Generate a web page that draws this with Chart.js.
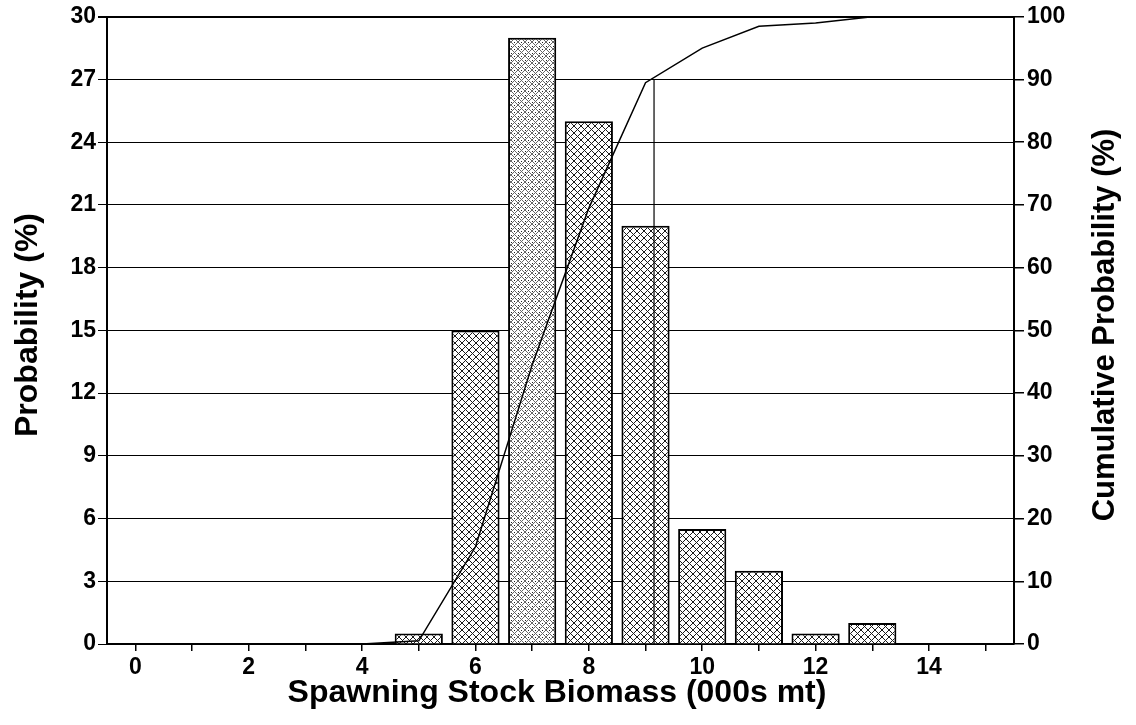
<!DOCTYPE html>
<html>
<head>
<meta charset="utf-8">
<script src="https://cdn.jsdelivr.net/npm/chart.js@4"></script>
<style>
  body { margin: 0; background: #fff; }
</style>
</head>
<body>
<canvas id="ssbChart" width="1136" height="725"></canvas>
<script>
// 階級（000s mt）と確率
const biomass = [0, 1, 2, 3, 4, 5, 6, 7, 8, 9, 10, 11, 12, 13, 14, 15];
const probability = [0, 0, 0, 0, 0, 0.5, 15, 29, 25, 20, 5.5, 3.5, 0.5, 1, 0, 0];
const cumulative = [0, 0, 0, 0, 0, 0.5, 15.5, 44.5, 69.5, 89.5, 95, 98.5, 99, 100, 100, 100];

// 90%ライン
const p90Biomass = 9.15;
const p90Level = 90;

// 目盛
const xTicks = [0, 1, 2, 3, 4, 5, 6, 7, 8, 9, 10, 11, 12, 13, 14, 15];
const xTickLabels = ['0', '', '2', '', '4', '', '6', '', '8', '', '10', '', '12', '', '14', ''];
const yTicks = [0, 3, 6, 9, 12, 15, 18, 21, 24, 27, 30];
const y2Ticks = [0, 10, 20, 30, 40, 50, 60, 70, 80, 90, 100];

const xTitle = 'Spawning Stock Biomass (000s mt)';
const yTitle = 'Probability (%)';
const y2Title = 'Cumulative Probability (%)';

// 7だけ薄い網掛け
const lightBars = [7];

Chart.defaults.font.family = "'Liberation Sans', Arial, sans-serif";
Chart.defaults.color = '#000';

let canvas = document.getElementById('ssbChart');
let ctx = canvas.getContext('2d');

//網掛けパターン作成
function makeHatch(light) {
  const size = 7;
  const tile = document.createElement('canvas');
  tile.width = size;
  tile.height = size;
  const g = tile.getContext('2d');
  g.fillStyle = '#fff';
  g.fillRect(0, 0, size, size);
  g.fillStyle = light ? '#666' : '#1a1a1a';
  for (let i = 0; i < size; i++) {
    g.fillRect(i, i, 1, 1);
    g.fillRect(size - 1 - i, i, 1, 1);
  }
  if (light) {
    g.fillStyle = '#222';
    g.fillRect(3, 0, 1, 1);
    g.fillRect(0, 4, 1, 1);
  }
  return ctx.createPattern(tile, 'repeat');
}

const darkHatch = makeHatch(false);
const lightHatch = makeHatch(true);

//軸タイトル
const axisTitles = {
  id: 'axisTitles',
  afterDraw(chart) {
    const c = chart.ctx;
    c.save();
    c.fillStyle = '#000';
    c.textAlign = 'center';
    c.textBaseline = 'middle';
    c.font = "bold 32px 'Liberation Sans', Arial, sans-serif";
    c.fillText(xTitle, 557, 693);

    c.save();
    c.translate(28, 325);
    c.rotate(-Math.PI / 2);
    c.fillText(yTitle, 0, 0);
    c.restore();

    c.font = "bold 31px 'Liberation Sans', Arial, sans-serif";
    c.save();
    c.translate(1105, 325);
    c.rotate(-Math.PI / 2);
    c.fillText(y2Title, 0, 0);
    c.restore();
    c.restore();
  }
};

const tickFont = { size: 23, weight: 'bold' };

window.ssbChart = new Chart(ctx, {
  data: {
    datasets: [
      {
        type: 'line',
        label: 'p90',
        data: [{ x: p90Biomass, y: p90Level }, { x: p90Biomass, y: 0 }],
        yAxisID: 'y2',
        borderColor: '#000',
        borderWidth: 1.2,
        pointRadius: 0,
        order: 0,
      },
      {
        type: 'line',
        label: 'Cumulative',
        data: biomass.map((b, i) => ({ x: b, y: cumulative[i] })),
        yAxisID: 'y2',
        borderColor: '#000',
        borderWidth: 1.5,
        pointRadius: 0,
        tension: 0,
        order: 0,
      },
      {
        type: 'bar',
        label: 'Probability',
        data: biomass.map((b, i) => ({ x: b, y: probability[i] })),
        yAxisID: 'y',
        backgroundColor: biomass.map(b => lightBars.includes(b) ? lightHatch : darkHatch),
        borderColor: '#000',
        borderWidth: 2,
        categoryPercentage: 1,
        barPercentage: 0.85,
        order: 1,
      },
    ]
  },
  options: {
    responsive: false,
    animation: false,
    layout: { padding: { top: 15, left: 0, right: 0, bottom: 0 } },
    plugins: {
      legend: { display: false },
      tooltip: { enabled: false },
    },
    scales: {
      x: {
        type: 'linear',
        position: 'bottom',
        min: -0.5,
        max: 15.5,
        offset: false,
        afterBuildTicks: s => { s.ticks = xTicks.map(v => ({ value: v })); },
        afterFit: s => { s.height = 81; },
        ticks: {
          callback: (v, i) => xTickLabels[i],
          font: tickFont,
          color: '#000',
          padding: 3,
          maxRotation: 0,
          autoSkip: false,
        },
        grid: { offset: false, drawOnChartArea: false, drawTicks: true, tickLength: 7, color: '#000', lineWidth: 1.5 },
        border: { color: '#000', width: 2 },
      },
      y: {
        position: 'left',
        min: 0,
        max: 30,
        afterBuildTicks: s => { s.ticks = yTicks.map(v => ({ value: v })); },
        afterFit: s => { s.width = 107; },
        ticks: { font: tickFont, color: '#000', padding: 2 },
        grid: {
          color: '#000',
          lineWidth: c => (c.tick && c.tick.value === 30) ? 2 : 1,
          tickLength: 9,
        },
        border: { color: '#000', width: 2 },
      },
      y2: {
        position: 'right',
        min: 0,
        max: 100,
        afterBuildTicks: s => { s.ticks = y2Ticks.map(v => ({ value: v })); },
        afterFit: s => { s.width = 122; },
        ticks: { font: tickFont, color: '#000', padding: 3 },
        grid: { drawOnChartArea: false, drawTicks: true, tickLength: 10, color: '#000', lineWidth: 1.5 },
        border: { color: '#000', width: 2 },
      },
    }
  },
  plugins: [axisTitles]
});
</script>
</body>
</html>
